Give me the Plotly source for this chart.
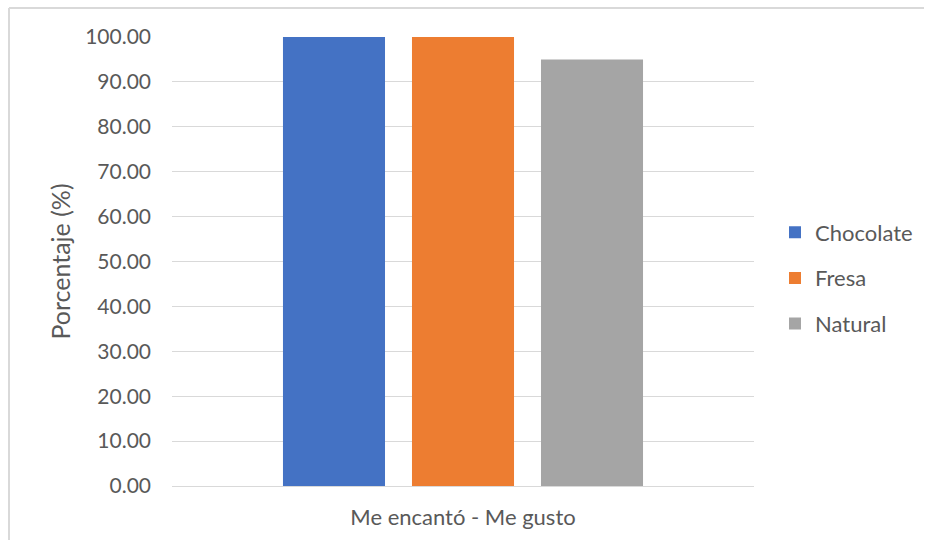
import plotly.graph_objects as go

categories = ["Me encantó - Me gusto"]
series_names = ["Chocolate", "Fresa", "Natural"]
series_values = [[100.0], [100.0], [95.0]]
series_colors = ["#4472C4", "#ED7D31", "#A5A5A5"]
y_ticks = [0, 10, 20, 30, 40, 50, 60, 70, 80, 90, 100]

W, H = 927, 543
ML, MR, MT, MB = 172, 173, 37, 57
pw, ph = W - ML - MR, H - MT - MB

fig = go.Figure()
for name, vals, col in zip(series_names, series_values, series_colors):
    fig.add_trace(go.Bar(
        x=categories, y=vals, name=name, marker_color=col,
        marker_line_width=0, legendgroup=name,
    ))

# chart-area frame: left and top edges, kept just inside the page
fx0 = (9 - ML) / pw
fx1 = (W - 3 - ML) / pw
fy0 = -(MB - 3) / ph
fy1 = 1 + (MT - 8) / ph
frame_style = dict(color="#d9d9d9", width=2)

font_fam = "Lato, 'Open Sans', sans-serif"
fig.update_layout(
    width=W, height=H,
    margin=dict(l=ML, r=MR, t=MT, b=MB, autoexpand=False),
    paper_bgcolor="white", plot_bgcolor="white",
    barmode="group", bargap=0.335, bargroupgap=0.209,
    font=dict(family=font_fam, color="#595959", size=21),
    showlegend=True,
    legend=dict(
        x=(775 - ML) / pw, xanchor="left",
        y=(486 - 278) / ph, yanchor="middle",
        font=dict(size=22, color="#595959"),
        tracegroupgap=14, itemwidth=30,
        bgcolor="rgba(0,0,0,0)",
    ),
    xaxis=dict(
        showgrid=False, showline=True, linecolor="#d9d9d9", linewidth=1,
        ticks="", tickfont=dict(size=22, color="#595959"),
        ticklabelstandoff=12,
    ),
    yaxis=dict(
        range=[0, 100], tickvals=y_ticks,
        ticktext=[f"{v:.2f}" for v in y_ticks],
        showgrid=True, gridcolor="#d9d9d9", gridwidth=1,
        zeroline=False, showline=False, ticks="",
        tickfont=dict(size=21, color="#595959"),
        ticklabelstandoff=20,
        title=dict(text="Porcentaje (%)", font=dict(size=25, color="#595959"), standoff=7),
    ),
    shapes=[
        dict(type="line", xref="paper", yref="paper",
             x0=fx0, x1=fx0, y0=fy0, y1=fy1,
             line=frame_style, layer="below"),
        dict(type="line", xref="paper", yref="paper",
             x0=fx0, x1=fx1, y0=fy1, y1=fy1,
             line=frame_style, layer="below"),
    ],
)

fig.write_html("out.html")
